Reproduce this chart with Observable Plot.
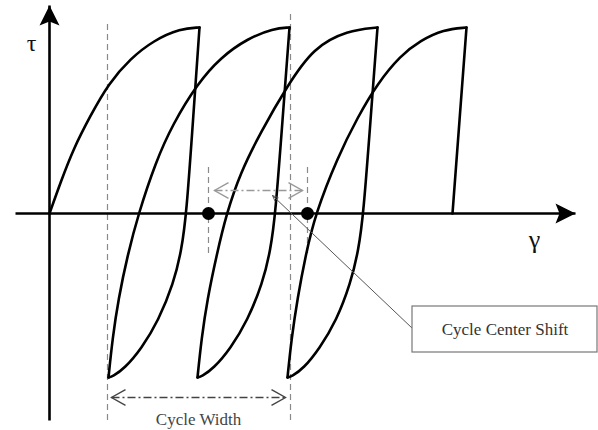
<!DOCTYPE html>
<html>
<head>
<meta charset="utf-8">
<script src="https://cdn.jsdelivr.net/npm/d3@7"></script>
<script src="https://cdn.jsdelivr.net/npm/@observablehq/plot@0.6"></script>
<style>
  html, body { margin: 0; padding: 0; background: #fff; }
  #chart svg { display: block; }
</style>
</head>
<body>
<div id="chart"></div>
<script>
// Shear stress τ vs. shear strain γ: ratcheting hysteresis loops
// Each branch is a list of [γ, τ] points.
const loading1   = [[0,0],[1.1,3.1],[2.4,6.5],[4.1,9.8],[5.9,13.0],[8.1,15.5],[10.4,17.3],[13.1,18.5],[15.0,18.6]];
const unloading1 = [[15.0,18.6],[14.35,9.3],[13.7,0],[13.2,-3.7],[12.4,-7.0],[10.9,-10.7],[9.2,-13.5],[7.5,-15.5],[6.3,-16.3],[5.9,-16.4]];
const loading2   = [[5.9,-16.4],[6.3,-12.5],[6.9,-8.5],[7.8,-4.2],[8.9,0],[10.6,5.1],[12.3,8.9],[14.8,13.0],[17.1,15.6],[19.8,17.5],[22.4,18.5],[24.0,18.6]];
const unloading2 = [[24.0,18.6],[23.3,9.3],[22.6,0],[22.1,-3.7],[21.3,-7.0],[19.8,-10.7],[18.1,-13.5],[16.4,-15.5],[15.2,-16.3],[14.8,-16.4]];
const loading3   = [[14.8,-16.4],[15.2,-12.5],[15.8,-8.5],[16.7,-4.2],[17.7,0],[19.1,4.1],[21.1,8.1],[23.8,12.8],[26.4,16.6],[29.8,18.3],[32.8,18.6]];
const unloading3 = [[32.8,18.6],[32.1,9.3],[31.4,0],[30.9,-3.7],[30.1,-7.0],[28.7,-10.7],[27.0,-13.5],[25.4,-15.5],[24.2,-16.3],[23.8,-16.4]];
const loading4   = [[23.8,-16.4],[24.2,-12.5],[24.8,-8.5],[25.6,-4.2],[26.6,0],[28.8,5.6],[30.8,9.6],[32.8,13.0],[35.1,15.8],[37.1,17.3],[39.4,18.4],[41.7,18.6]];
const unloading4 = [[41.7,18.6],[41.0,9.3],[40.3,0]];

// Axis extents (γ along the horizontal, τ along the vertical)
const gammaAxis = [-3.4, 52.6];
const tauAxis = [-20.7, 20.8];

// Cycle width bounds and cycle centres
const widthBounds = [5.8, 24.1];
const widthTop = [19.3, 20.3];
const centers = [15.9, 25.8];
const centerTick = [-4.0, 5.0];

// Dimension arrows: [γ start, γ end, τ]
const widthArrow = [6.2, 23.6, -18.4];
const shiftArrow = [16.5, 25.3, 2.3];

// Callout box and its leader
const calloutBox = [36.3, 54.8, -13.9, -9.3];
const leader = [36.3, -11.5, 22.3, 1.8];

const labels = ["τ", "γ", "Cycle Center Shift", "Cycle Width"];

const branches = [loading1, unloading1, loading2, unloading2, loading3, unloading3, loading4, unloading4];
const curve = branches.flatMap((pts, i) => pts.map(([g, t]) => ({branch: i, g, t})));

// Filled, notched arrowhead with its tip at the origin, pointing up
const arrowHead = {
  draw(context, size) {
    const r = Math.sqrt(size / Math.PI);
    context.moveTo(0, 0);
    context.lineTo(r, 2 * r);
    context.lineTo(0, 1.6 * r);
    context.lineTo(-r, 2 * r);
    context.closePath();
  }
};
// Open chevron with its tip at the origin, pointing left
const chevron = {
  draw(context, size) {
    const r = Math.sqrt(size / Math.PI);
    context.moveTo(r, -0.57 * r);
    context.lineTo(0, 0);
    context.lineTo(r, 0.57 * r);
  }
};

const dashes = [
  {g: widthBounds[0], t1: tauAxis[0], t2: widthTop[0]},
  {g: widthBounds[1], t1: tauAxis[0], t2: widthTop[1]},
  {g: centers[0], t1: centerTick[0], t2: centerTick[1]},
  {g: centers[1], t1: centerTick[0], t2: centerTick[1]}
];

const axes = [
  {x1: gammaAxis[0], y1: 0, x2: gammaAxis[1], y2: 0},
  {x1: 0, y1: tauAxis[0], x2: 0, y2: tauAxis[1]}
];
const axisHeads = [
  {g: gammaAxis[1], t: 0, rot: 90},
  {g: 0, t: tauAxis[1], rot: 0}
];

const dimArrows = [
  {x1: widthArrow[0], x2: widthArrow[1], y: widthArrow[2], color: "#444"},
  {x1: shiftArrow[0], x2: shiftArrow[1], y: shiftArrow[2], color: "#999"}
];
const dimHeads = dimArrows.flatMap(d => [
  {g: d.x1, t: d.y, rot: 0, color: d.color},
  {g: d.x2, t: d.y, rot: 180, color: d.color}
]);

const serif = "'Liberation Serif', 'Times New Roman', serif";

const chart = Plot.plot({
  width: 598,
  height: 430,
  marginTop: 0, marginRight: 0, marginBottom: 0, marginLeft: 0,
  x: {domain: [-4.9, 54.9], axis: null},
  y: {domain: [-21.7, 21.3], axis: null},
  marks: [
    Plot.ruleX(dashes, {x: "g", y1: "t1", y2: "t2", stroke: "#8a8a8a", strokeWidth: 1.2, strokeDasharray: "6,4"}),
    Plot.line(curve, {x: "g", y: "t", z: "branch", curve: "basis", stroke: "#000", strokeWidth: 2.6, strokeLinejoin: "round", strokeLinecap: "round"}),
    Plot.link(axes, {x1: "x1", y1: "y1", x2: "x2", y2: "y2", stroke: "#000", strokeWidth: 2.6}),
    Plot.dot(axisHeads, {x: "g", y: "t", rotate: "rot", symbol: arrowHead, r: 10, fill: "#000", stroke: "none"}),
    Plot.dot(centers, {x: d => d, y: () => 0, r: 6.5, fill: "#000"}),
    Plot.link(dimArrows, {x1: "x1", x2: "x2", y1: "y", y2: "y", stroke: d => d.color, strokeWidth: 1.6, strokeDasharray: "8,3,2,3"}),
    Plot.dot(dimHeads, {x: "g", y: "t", rotate: "rot", symbol: chevron, r: 14, fill: "none", stroke: d => d.color, strokeWidth: 1.4}),
    Plot.arrow([leader], {x1: d => d[0], y1: d => d[1], x2: d => d[2], y2: d => d[3], stroke: "#555", strokeWidth: 1, headLength: 9, headAngle: 45}),
    Plot.rect([calloutBox], {x1: d => d[0], x2: d => d[1], y1: d => d[2], y2: d => d[3], fill: "#fff", stroke: "#777", strokeWidth: 1.2}),
    Plot.text([labels[0]], {x: () => -1.8, y: () => 17.0, text: d => d, fontFamily: serif, fontSize: 24, fill: "#111"}),
    Plot.text([labels[1]], {x: () => 48.5, y: () => -2.6, text: d => d, fontFamily: serif, fontSize: 26, fill: "#111"}),
    Plot.text([labels[2]], {x: () => (calloutBox[0] + calloutBox[1]) / 2, y: () => (calloutBox[2] + calloutBox[3]) / 2, text: d => d, fontFamily: serif, fontSize: 17, fill: "#333"}),
    Plot.text([labels[3]], {x: () => (widthArrow[0] + widthArrow[1]) / 2, y: () => -20.6, text: d => d, fontFamily: serif, fontSize: 17, fill: "#444"})
  ]
});
document.getElementById("chart").appendChild(chart);
</script>
</body>
</html>
